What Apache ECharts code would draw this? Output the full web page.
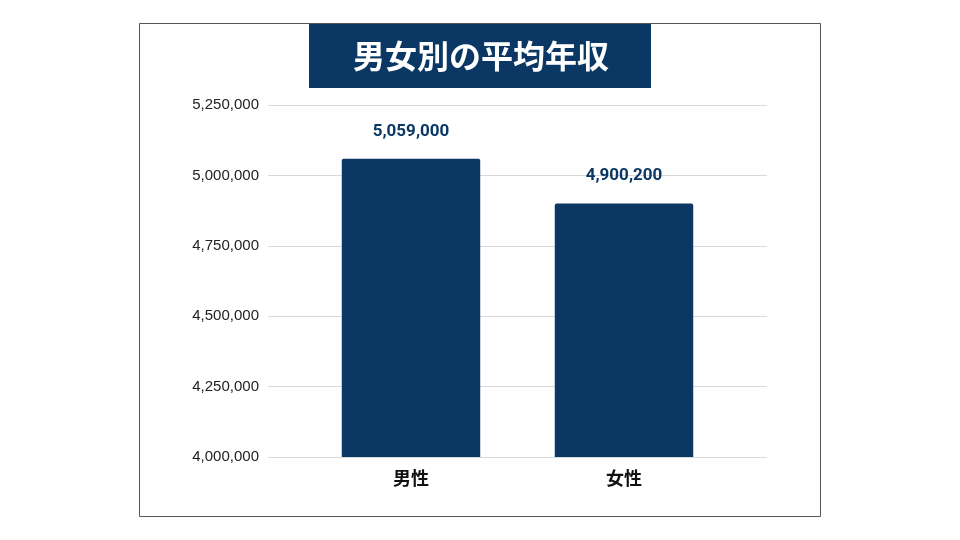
<!DOCTYPE html>
<html><head><meta charset="utf-8">
<script src="https://cdn.jsdelivr.net/npm/echarts@6/dist/echarts.min.js"></script>
<style>html,body{margin:0;padding:0;background:#fff}#c{width:960px;height:540px}</style>
</head><body><div id="c"></div>
<script>
const categories = ['男性', '女性'];
const values = [5059000, 4900200];
const titleText = '男女別の平均年収';
const yMin = 4000000, yMax = 5250000, yStep = 250000;

const navy = '#0a3764';
const font = 'Roboto, "Liberation Sans", Arial, "Noto Sans CJK JP", sans-serif';
const chart = echarts.init(document.getElementById('c'));
chart.setOption({
  animation: false,
  backgroundColor: '#fff',
  graphic: [
    {type: 'rect', shape: {x: 139.5, y: 23.5, width: 681, height: 493}, style: {fill: 'none', stroke: '#555', lineWidth: 1}, z: 0},
    {type: 'rect', shape: {x: 309, y: 24, width: 342, height: 64}, style: {fill: navy}, z: 10},
    {type: 'text', x: 481, y: 56, style: {text: titleText, fill: '#fff', font: 'bold 32px "Noto Sans CJK JP", sans-serif', textAlign: 'center', textVerticalAlign: 'middle'}, z: 11}
  ],
  grid: [
    {left: 268, right: 193, top: 105, bottom: 83},
    {left: 304.5, right: 229.5, top: 105, bottom: 83}
  ],
  xAxis: [
    {gridIndex: 0, type: 'category', data: categories, show: false},
    {gridIndex: 1, type: 'category', data: categories,
     axisLine: {show: false}, axisTick: {show: false},
     axisLabel: {margin: 12, color: '#111', fontSize: 18, fontWeight: 'bold', fontFamily: '"Noto Sans CJK JP", sans-serif'}}
  ],
  yAxis: [
    {gridIndex: 0, type: 'value', min: yMin, max: yMax, interval: yStep,
     axisLine: {show: false}, axisTick: {show: false},
     axisLabel: {margin: 9, color: '#222', fontSize: 15, fontFamily: '"Liberation Sans", Arial, sans-serif',
       formatter: v => v.toLocaleString('en-US')},
     splitLine: {lineStyle: {color: '#d9d9d9', width: 1}}},
    {gridIndex: 1, type: 'value', min: yMin, max: yMax, interval: yStep, show: false, splitLine: {show: false}}
  ],
  series: [{
    type: 'bar', xAxisIndex: 1, yAxisIndex: 1,
    data: values, barWidth: '65%',
    itemStyle: {color: navy, borderRadius: [2, 2, 0, 0]},
    label: {show: true, position: 'top', distance: 19, color: navy, fontSize: 17, fontWeight: 'bold', fontFamily: font,
      formatter: p => p.value.toLocaleString('en-US')}
  }]
});
</script></body></html>
